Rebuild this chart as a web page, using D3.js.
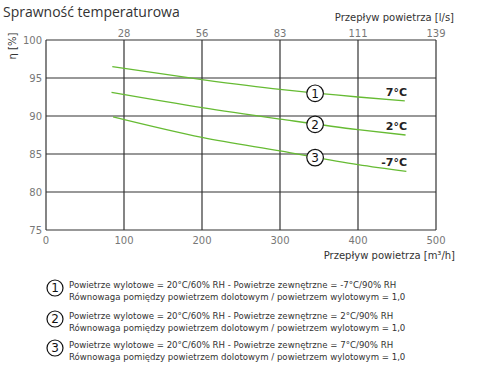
<!DOCTYPE html>
<html><head><meta charset="utf-8">
<script src="https://cdn.jsdelivr.net/npm/d3@7"></script>
<style>body{margin:0;background:#fff}svg{display:block}</style>
</head><body>
<script>
const flowTicks = [0, 100, 200, 300, 400, 500];
const lsTicks = ["28", "56", "83", "111", "139"];
const etaTicks = [75, 80, 85, 90, 95, 100];
const flow7 = [85, 200, 300, 400, 460];
const eta7 = [96.5, 94.8, 93.5, 92.5, 92.0];
const flow2 = [84, 200, 300, 400, 461];
const eta2 = [93.1, 91.1, 89.6, 88.2, 87.5];
const flowM7 = [86, 200, 300, 400, 462];
const etaM7 = [89.9, 87.2, 85.4, 83.6, 82.7];
const seriesNames = ["7°C", "2°C", "-7°C"];
const legendLines = [
  ["Powietrze wylotowe = 20°C/60% RH - Powietrze zewnętrzne = -7°C/90% RH", "Równowaga pomiędzy powietrzem dolotowym / powietrzem wylotowym = 1,0"],
  ["Powietrze wylotowe = 20°C/60% RH - Powietrze zewnętrzne = 2°C/90% RH", "Równowaga pomiędzy powietrzem dolotowym / powietrzem wylotowym = 1,0"],
  ["Powietrze wylotowe = 20°C/60% RH - Powietrze zewnętrzne = 7°C/90% RH", "Równowaga pomiędzy powietrzem dolotowym / powietrzem wylotowym = 1,0"]
];

const W = 480, H = 380;
const svg = d3.select("body").append("svg").attr("width", W).attr("height", H);
const font = "'DejaVu Sans', Verdana, sans-serif";
const x = d3.scaleLinear().domain([0, 500]).range([46, 436]);
const y = d3.scaleLinear().domain([75, 100]).range([230, 40]);
const grid = "#333";

svg.append("text").attr("x", 3).attr("y", 17).attr("font-family", "'Open Sans', sans-serif")
  .attr("font-size", 14).attr("fill", "#333").text("Sprawność temperaturowa");

// grid
const g = svg.append("g");
g.selectAll("line.v").data(flowTicks).join("line")
  .attr("x1", d => x(d)).attr("x2", d => x(d)).attr("y1", y(100)).attr("y2", y(75))
  .attr("stroke", grid).attr("stroke-width", 1.2);
g.selectAll("line.h").data(etaTicks).join("line")
  .attr("x1", x(0)).attr("x2", x(500)).attr("y1", d => y(d)).attr("y2", d => y(d))
  .attr("stroke", grid).attr("stroke-width", 1.2);

const tickStyle = s => s.attr("font-family", font).attr("font-size", 10).attr("fill", "#777");
g.selectAll("text.bx").data(flowTicks).join("text").call(tickStyle)
  .attr("x", d => x(d)).attr("y", 244).attr("text-anchor", "middle").text(d => d);
g.selectAll("text.ly").data(etaTicks).join("text").call(tickStyle)
  .attr("x", 42).attr("y", d => y(d) + 4).attr("text-anchor", "end").text(d => d);
g.selectAll("text.tx").data(lsTicks).join("text").call(tickStyle)
  .attr("x", (d, i) => x(flowTicks[i + 1])).attr("y", 37).attr("text-anchor", "middle").text(d => d);

svg.append("text").attr("x", 454).attr("y", 21).attr("text-anchor", "end")
  .attr("font-family", font).attr("font-size", 10).attr("fill", "#333").text("Przepływ powietrza [l/s]");
svg.append("text").attr("x", 455).attr("y", 259).attr("text-anchor", "end")
  .attr("font-family", font).attr("font-size", 10).attr("fill", "#333").text("Przepływ powietrza [m³/h]");
svg.append("text").attr("transform", "translate(16,46) rotate(-90)").attr("text-anchor", "middle")
  .attr("font-family", font).attr("font-size", 10).attr("fill", "#333").text("η [%]");

// curves
const series = [[flow7, eta7], [flow2, eta2], [flowM7, etaM7]];
const line = d3.line().x(d => x(d[0])).y(d => y(d[1])).curve(d3.curveMonotoneX);
series.forEach(([fx, fy]) => {
  const pts = fx.map((f, j) => [f, fy[j]]);
  svg.append("path").attr("d", line(pts)).attr("fill", "none").attr("stroke", "#66bb33").attr("stroke-width", 1.3);
});

const markerFlow = 345;
const circ = (sel, cx, cy, r, n, fs) => {
  sel.append("circle").attr("cx", cx).attr("cy", cy).attr("r", r).attr("fill", "#fff").attr("stroke", "#111").attr("stroke-width", 1.2);
  sel.append("text").attr("x", cx).attr("y", cy + fs * 0.36).attr("text-anchor", "middle")
    .attr("font-family", font).attr("font-size", fs).attr("fill", "#111").text(n);
};
series.forEach(([fx, fy], i) => {
  const interp = d3.scaleLinear().domain(fx).range(fy);
  circ(svg, x(markerFlow), y(interp(markerFlow)) + 0.5, 8.3, i + 1, 12);
  svg.append("text").attr("x", 407).attr("y", y(fy[fy.length - 1]) - 5).attr("text-anchor", "end")
    .attr("font-family", font).attr("font-size", 11).attr("font-weight", "bold").attr("fill", "#222").text(seriesNames[i]);
});

// legend
const legTop = [285, 316, 345];
legendLines.forEach((ls, i) => {
  circ(svg, 55, legTop[i] + 3, 8, i + 1, 12);
  ls.forEach((t, j) => {
    svg.append("text").attr("x", 69).attr("y", legTop[i] + 3 + j * 11.5)
      .attr("font-family", font).attr("font-size", 8.6).attr("fill", "#333").text(t);
  });
});
</script>
</body></html>
